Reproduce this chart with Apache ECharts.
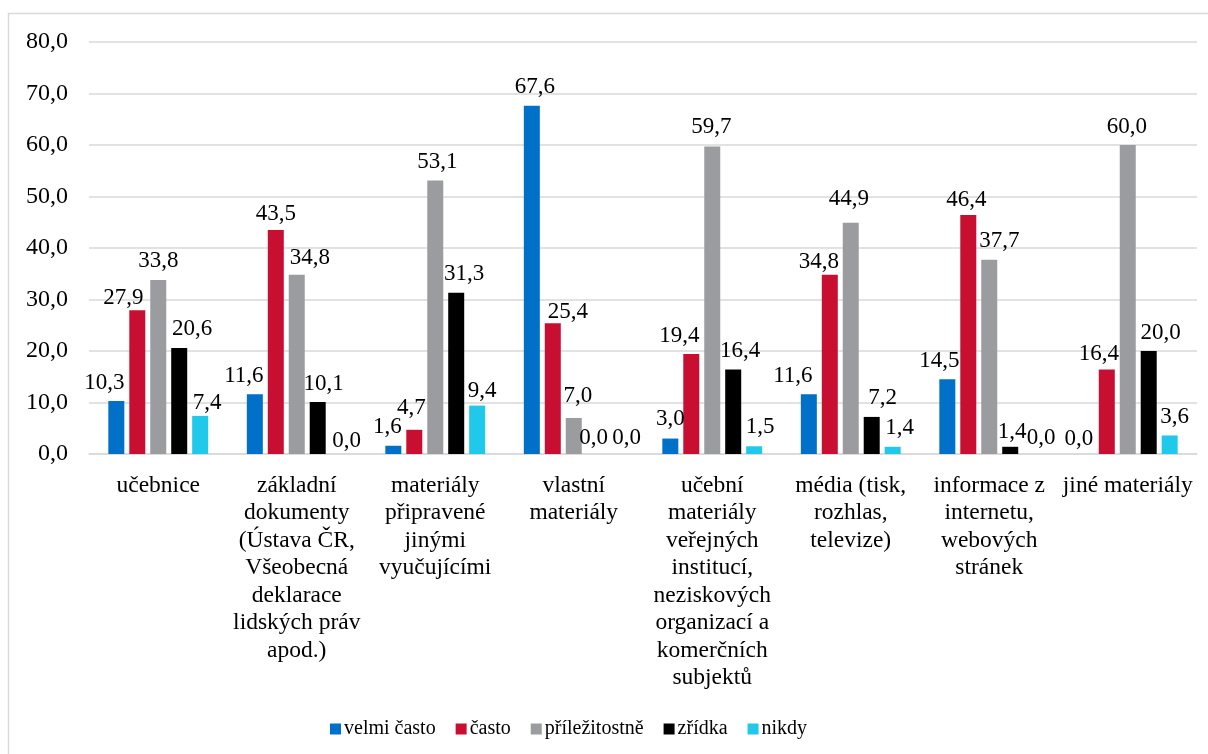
<!DOCTYPE html>
<html>
<head>
<meta charset="utf-8">
<script src="https://cdn.jsdelivr.net/npm/echarts@6/dist/echarts.min.js"></script>
<style>
  html, body { margin: 0; padding: 0; background: #fff; }
  #chart { width: 1208px; height: 754px; }
</style>
</head>
<body>
<div id="chart"></div>
<script>
// Kategorie materiálů (zalomené na řádky)
const categories = [
  'učebnice',
  'základní\ndokumenty\n(Ústava ČR,\nVšeobecná\ndeklarace\nlidských práv\napod.)',
  'materiály\npřipravené\njinými\nvyučujícími',
  'vlastní\nmateriály',
  'učební\nmateriály\nveřejných\ninstitucí,\nneziskových\norganizací a\nkomerčních\nsubjektů',
  'média (tisk,\nrozhlas,\ntelevize)',
  'informace z\ninternetu,\nwebových\nstránek',
  'jiné materiály'
];

const seriesNames = ['velmi často', 'často', 'příležitostně', 'zřídka', 'nikdy'];

const velmiCasto   = [10.3, 11.6,  1.6, 67.6,  3.0, 11.6, 14.5,  0.0];
const casto        = [27.9, 43.5,  4.7, 25.4, 19.4, 34.8, 46.4, 16.4];
const prilezitostne= [33.8, 34.8, 53.1,  7.0, 59.7, 44.9, 37.7, 60.0];
const zridka       = [20.6, 10.1, 31.3,  0.0, 16.4,  7.2,  1.4, 20.0];
const nikdy        = [ 7.4,  0.0,  9.4,  0.0,  1.5,  1.4,  0.0,  3.6];

const yTicks = { min: 0, max: 80, interval: 10 };

// Ruční posuny popisků hodnot (px), aby se nepřekrývaly: [dx, dy]
const labelNudge = [
  [[-12, 0], [-11, 0], [-6, 0], [3, 0], [0, -1], [-16, 0], [-8, 0], [-7, 3]],
  [[-14, 6], [0, 2], [-3, -3], [15, 7], [-12, 0], [-11, 6], [-2, 3], [-8, 3]],
  [[0, 0], [13, 2], [2, 0], [4, -3], [-1, -1], [-2, -5], [10, 0], [-1, 0]],
  [[13, 0], [6, 0], [8, 0], [-1, 2], [7, 0], [11, 0], [2, 4], [12, 0]],
  [[7, 6], [8, 5], [5, 4], [11, 2], [6, -1], [7, 0], [10, 2], [5, 0]]
];

const colors = ['#0070C8', '#C80F32', '#9B9C9F', '#000000', '#20C8EA'];
const font = '"Times New Roman", "Liberation Serif", "DejaVu Serif", serif';
const fmt = v => Number(v).toFixed(1).replace('.', ',');

const allData = [velmiCasto, casto, prilezitostne, zridka, nikdy];

const chart = echarts.init(document.getElementById('chart'), null, { renderer: 'canvas' });

chart.setOption({
  animation: false,
  color: colors,
  textStyle: { fontFamily: font },
  graphic: [{
    type: 'rect',
    shape: { x: 8.5, y: 13.5, width: 1210, height: 760 },
    style: { fill: 'none', stroke: '#D9D9D9', lineWidth: 1.5 },
    silent: true,
    z: -1
  }],
  grid: { left: 89, right: 11, top: 42, bottom: 300, containLabel: false },
  legend: {
    top: 714,
    left: 325,
    itemWidth: 11,
    itemHeight: 11,
    itemGap: 20,
    icon: 'rect',
    textStyle: { fontFamily: font, fontSize: 20, color: '#000', padding: [0, 0, 0, -2] },
    data: seriesNames
  },
  xAxis: {
    type: 'category',
    data: categories,
    axisLine: { lineStyle: { color: '#D9D9D9', width: 1.5 } },
    axisTick: { show: false },
    axisLabel: {
      interval: 0,
      margin: 18,
      fontFamily: font,
      fontSize: 23.5,
      lineHeight: 27.5,
      color: '#000',
      align: 'center'
    }
  },
  yAxis: {
    type: 'value',
    min: yTicks.min,
    max: yTicks.max,
    interval: yTicks.interval,
    axisLine: { show: false },
    axisTick: { show: false },
    splitLine: { lineStyle: { color: '#D9D9D9', width: 1.5 } },
    axisLabel: {
      formatter: fmt,
      fontFamily: font,
      fontSize: 24,
      color: '#000',
      margin: 21
    }
  },
  series: seriesNames.map((name, i) => ({
    name: name,
    type: 'bar',
    data: allData[i].map((v, j) => ({
      value: v,
      label: { offset: labelNudge[i][j] }
    })),
    barWidth: 16,
    barGap: '31%',
    label: {
      show: true,
      position: 'top',
      distance: 7,
      formatter: p => fmt(p.value),
      fontFamily: font,
      fontSize: 23,
      color: '#000'
    }
  }))
});
</script>
</body>
</html>
